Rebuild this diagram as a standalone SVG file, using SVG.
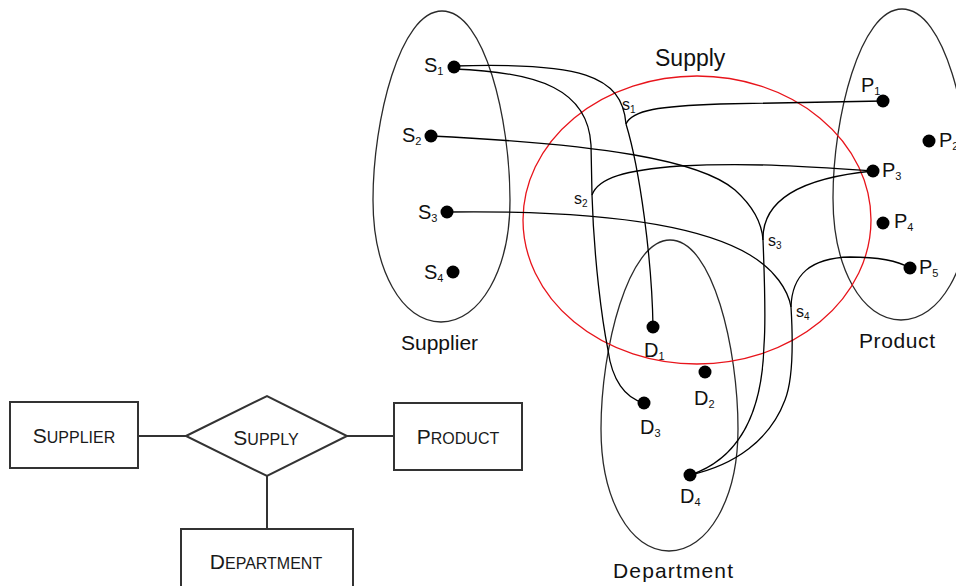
<svg xmlns="http://www.w3.org/2000/svg" width="956" height="586" viewBox="0 0 956 586">
<style>
  .set { fill: none; stroke: #2a2a2a; stroke-width: 1.3; }
  .rel { fill: none; stroke: #e8141b; stroke-width: 1.3; }
  .con { fill: none; stroke: #000; stroke-width: 1.3; }
  .dot { fill: #000; }
  .lbl { font-family: "Liberation Sans", Arial, sans-serif; font-size: 21px; fill: #111; }
  .el { font-family: "Liberation Sans", Arial, sans-serif; font-size: 20px; fill: #111; }
  .sub { font-size: 11px; }
  .sl { font-family: "Liberation Sans", Arial, sans-serif; font-size: 16px; fill: #111; }
  .ssub { font-size: 10px; }
  .box { fill: #fff; stroke: #333; stroke-width: 2; }
  .erl { fill: none; stroke: #333; stroke-width: 2; }
  .ert { font-family: "Liberation Sans", Arial, sans-serif; font-size: 21px; fill: #1a1a1a; text-anchor: middle; }
  .sc { font-size: 16px; }
</style>
<rect width="956" height="586" fill="#fff"/>

<!-- Sets -->
<g id="supplier-set">
  <path class="set" d="M442,11 C485,11 510,120 510,200 C510,270 480,322 441,322 C402,322 373,270 373,200 C373,120 400,11 442,11 Z"/>
  <text class="lbl" x="401" y="350">Supplier</text>
</g>
<g id="product-set">
  <path class="set" d="M902,9 C945,9 970,118 970,198 C970,268 940,320 901,320 C862,320 833,268 833,198 C833,118 860,9 902,9 Z"/>
  <text class="lbl" x="859" y="348" textLength="76" lengthAdjust="spacing">Product</text>
</g>
<g id="department-set">
  <path class="set" d="M670,240 C713,240 738,349 738,429 C738,499 708,551 669,551 C630,551 601,499 601,429 C601,349 628,240 670,240 Z"/>
  <text class="lbl" x="613" y="578" textLength="120" lengthAdjust="spacing">Department</text>
</g>
<g id="supply-set">
  <ellipse class="rel" cx="697" cy="220" rx="174" ry="144"/>
  <text class="lbl" x="655" y="66" font-size="23" style="font-size:23px">Supply</text>
</g>

<!-- Connectors -->
<g id="connectors">
  <!-- s1: S1, P1, D1 -->
  <path class="con" d="M454,66 C580,62 622,75 626,124"/>
  <path class="con" d="M626,124 C640,170 652,260 653,327"/>
  <path class="con" d="M626,124 C632,110 660,106 720,104 L883,101"/>
  <!-- s2: S1, P3, D3 -->
  <path class="con" d="M454,69 C540,72 588,90 591,145 L592,195"/>
  <path class="con" d="M592,195 C594,260 602,320 608,350 C612,380 625,398 644,403"/>
  <path class="con" d="M592,195 C598,178 625,170 680,166 C760,162 830,168 873,171"/>
  <!-- s3: S2, P3, D4 -->
  <path class="con" d="M431,136 C600,144 700,160 735,190 C755,208 762,225 763,240"/>
  <path class="con" d="M763,240 C765,290 766,320 764,345 C762,420 735,460 690,475"/>
  <path class="con" d="M763,240 C762,200 800,178 873,171"/>
  <!-- s4: S3, P5, D4 -->
  <path class="con" d="M447,212 C600,210 700,225 750,255 C775,270 788,290 791,307"/>
  <path class="con" d="M791,307 C793,340 793,380 785,400 C770,440 735,465 690,475"/>
  <path class="con" d="M791,307 C792,275 810,258 850,257 C880,257 900,262 910,268"/>
</g>

<!-- Relationship instance labels -->
<g id="s1"><text class="sl" x="622" y="110">s<tspan class="ssub" dy="3">1</tspan></text></g>
<g id="s2"><text class="sl" x="574" y="204">s<tspan class="ssub" dy="3">2</tspan></text></g>
<g id="s3"><text class="sl" x="768" y="246">s<tspan class="ssub" dy="3">3</tspan></text></g>
<g id="s4"><text class="sl" x="796" y="317">s<tspan class="ssub" dy="3">4</tspan></text></g>

<!-- Supplier elements -->
<g id="S1"><circle class="dot" cx="454" cy="67" r="6.5"/><text class="el" x="424" y="72">S<tspan class="sub" dy="3">1</tspan></text></g>
<g id="S2"><circle class="dot" cx="431" cy="136" r="6.5"/><text class="el" x="402" y="142">S<tspan class="sub" dy="3">2</tspan></text></g>
<g id="S3"><circle class="dot" cx="447" cy="212" r="6.5"/><text class="el" x="418" y="219">S<tspan class="sub" dy="3">3</tspan></text></g>
<g id="S4"><circle class="dot" cx="453" cy="272" r="6.5"/><text class="el" x="424" y="279">S<tspan class="sub" dy="3">4</tspan></text></g>

<!-- Product elements -->
<g id="P1"><circle class="dot" cx="883" cy="101" r="6.5"/><text class="el" x="861" y="92">P<tspan class="sub" dy="3">1</tspan></text></g>
<g id="P2"><circle class="dot" cx="929" cy="141" r="6.5"/><text class="el" x="939" y="147">P<tspan class="sub" dy="3">2</tspan></text></g>
<g id="P3"><circle class="dot" cx="873" cy="171" r="6.5"/><text class="el" x="882" y="177">P<tspan class="sub" dy="3">3</tspan></text></g>
<g id="P4"><circle class="dot" cx="883" cy="223" r="6.5"/><text class="el" x="894" y="228">P<tspan class="sub" dy="3">4</tspan></text></g>
<g id="P5"><circle class="dot" cx="910" cy="268" r="6.5"/><text class="el" x="919" y="274">P<tspan class="sub" dy="3">5</tspan></text></g>

<!-- Department elements -->
<g id="D1"><circle class="dot" cx="653" cy="327" r="6.5"/><text class="el" x="644" y="357">D<tspan class="sub" dy="3">1</tspan></text></g>
<g id="D2"><circle class="dot" cx="705" cy="372" r="6.5"/><text class="el" x="694" y="405">D<tspan class="sub" dy="3">2</tspan></text></g>
<g id="D3"><circle class="dot" cx="644" cy="403" r="6.5"/><text class="el" x="640" y="434">D<tspan class="sub" dy="3">3</tspan></text></g>
<g id="D4"><circle class="dot" cx="690" cy="475" r="6.5"/><text class="el" x="680" y="503">D<tspan class="sub" dy="3">4</tspan></text></g>

<!-- ER diagram -->
<g id="er-connectors">
  <line class="erl" x1="138" y1="436" x2="186" y2="436"/>
  <line class="erl" x1="347" y1="436" x2="394" y2="436"/>
  <line class="erl" x1="267" y1="476" x2="267" y2="529"/>
</g>
<g id="er-supplier">
  <rect class="box" x="10" y="402" width="128" height="66"/>
  <text class="ert" x="74" y="443">S<tspan class="sc">UPPLIER</tspan></text>
</g>
<g id="er-supply">
  <polygon class="box" points="186,436 267,396 347,436 267,476"/>
  <text class="ert" x="266" y="445">S<tspan class="sc">UPPLY</tspan></text>
</g>
<g id="er-product">
  <rect class="box" x="394" y="403" width="128" height="67"/>
  <text class="ert" x="458" y="444">P<tspan class="sc">RODUCT</tspan></text>
</g>
<g id="er-department">
  <rect class="box" x="181" y="529" width="172" height="70"/>
  <text class="ert" x="266" y="569">D<tspan class="sc">EPARTMENT</tspan></text>
</g>
</svg>
